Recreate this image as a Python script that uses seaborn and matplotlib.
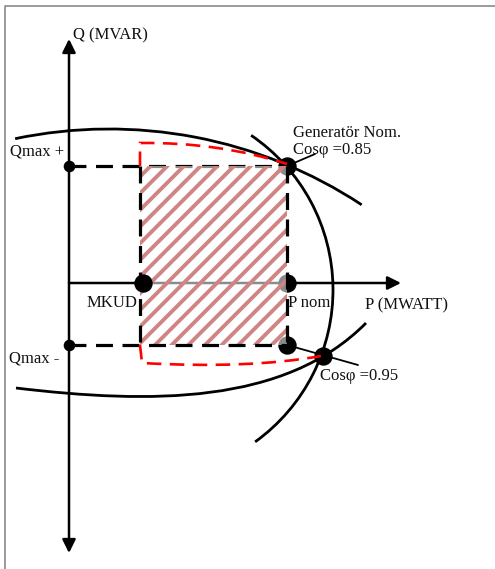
import numpy as np
import pandas as pd
import matplotlib
matplotlib.use("Agg")
import matplotlib.pyplot as plt
import seaborn as sns
from matplotlib.patches import Rectangle, Arc, PathPatch
from matplotlib.path import Path
from matplotlib.lines import Line2D

# ---- diagram data (P to the right, Q upward) ----
P_MKUD = 74
P_NOM = 218
Q_MAX_POS = 117
Q_MAX_NEG = -62
P_COS095, Q_COS095 = 254, -73

Q_AXIS = [-270, 244]
P_AXIS = [0, 332]

upper_arc_center = [40, -305]
upper_arc_r = 459
upper_arc_deg = [56.6, 101.8]

stator_arc_center = [77, -7]
stator_arc_r = 187
stator_arc_deg = [-54.3, 55.8]

lower_curve_P = [-53, 81, 216, 297]
lower_curve_Q = [-105, -121, -122, -40]

red_upper_P = [71, 71, 150, 218]
red_upper_Q = [117, 140, 141, 119]
red_lower_P = [71, 73, 180, 252]
red_lower_Q = [-62, -80, -86, -73]

gen_leader_P = [218, 246]
gen_leader_Q = [117, 129]
cos095_line_P = [218, 289]
cos095_line_Q = [-62, -82]

labels = ["Q (MVAR)", "Qmax +", "Qmax -", "MKUD", "P nom", "P (MWATT)",
          "Generatör Nom.", "Cosφ =0.85", "Cosφ =0.95"]
label_P = [4, -59, -60, 18, 219, 296, 224, 224, 251]
label_Q = [244, 128, -79, -24, -24, -26, 146, 129, -97]

# ---- styling ----
sns.set_theme(style="white")
plt.rcParams["font.family"] = ["Liberation Serif", "DejaVu Serif"]
plt.rcParams["hatch.linewidth"] = 2.8

fig = plt.figure(figsize=(4.95, 5.69), dpi=100)
ax = fig.add_axes([0, 0, 1, 1])
ax.set_xlim(-69, 426)
ax.set_ylim(-286, 283)
ax.axis("off")

BLACK = "black"
AX_LW = 1.8
CURVE_LW = 2.0

# axes with arrows
ax.annotate("", xy=(0, Q_AXIS[1]), xytext=(0, Q_AXIS[0]),
            arrowprops=dict(arrowstyle="<|-|>", lw=AX_LW, color=BLACK,
                            mutation_scale=20, shrinkA=0, shrinkB=0), zorder=2)
ax.annotate("", xy=(P_AXIS[1], 0), xytext=(P_AXIS[0], 0),
            arrowprops=dict(arrowstyle="-|>", lw=AX_LW, color=BLACK,
                            mutation_scale=20, shrinkA=0, shrinkB=0), zorder=2)

# capability curves
ax.add_patch(Arc(tuple(upper_arc_center), 2 * upper_arc_r, 2 * upper_arc_r,
                 theta1=upper_arc_deg[0], theta2=upper_arc_deg[1],
                 lw=CURVE_LW, color=BLACK, zorder=2))
ax.add_patch(Arc(tuple(stator_arc_center), 2 * stator_arc_r, 2 * stator_arc_r,
                 theta1=stator_arc_deg[0], theta2=stator_arc_deg[1],
                 lw=CURVE_LW, color=BLACK, zorder=2))
lower_path = Path(list(zip(lower_curve_P, lower_curve_Q)),
                  [Path.MOVETO, Path.CURVE4, Path.CURVE4, Path.CURVE4])
ax.add_patch(PathPatch(lower_path, fill=False, lw=CURVE_LW, color=BLACK, zorder=2))

ax.plot(gen_leader_P, gen_leader_Q, color=BLACK, lw=1.3, zorder=2)
ax.plot(cos095_line_P, cos095_line_Q, color=BLACK, lw=1.3, zorder=2)

# black dashed guide lines
dash_black = (0, (5.3, 3.0))
ax.plot([0, P_NOM], [Q_MAX_POS, Q_MAX_POS], color=BLACK, lw=2.3, ls=dash_black, zorder=2)
ax.plot([0, P_NOM], [Q_MAX_NEG, Q_MAX_NEG], color=BLACK, lw=2.3, ls=dash_black, zorder=4)
ax.plot([71, 71], [Q_MAX_POS, Q_MAX_NEG], color=BLACK, lw=2.3, ls=dash_black, zorder=4)
ax.plot([P_NOM, P_NOM], [Q_MAX_POS, Q_MAX_NEG], color=BLACK, lw=2.3, ls=dash_black, zorder=4)

# points under the hatched area
under = pd.DataFrame({"P": [P_NOM, P_NOM, P_NOM, P_COS095],
                      "Q": [0, Q_MAX_NEG, Q_MAX_POS, Q_COS095]})
sns.scatterplot(data=under, x="P", y="Q", s=175, color=BLACK,
                edgecolor=BLACK, linewidth=0, ax=ax, zorder=2, legend=False)

# hatched operating area
ax.add_patch(Rectangle((71, Q_MAX_NEG), P_NOM - 71, Q_MAX_POS - Q_MAX_NEG,
                       facecolor=(1, 1, 1, 0.55), edgecolor="#d08585",
                       hatch="//", lw=0, zorder=3))

# red dashed limits
codes3 = [Path.MOVETO, Path.LINETO, Path.CURVE3, Path.CURVE3]
dash_red = (0, (5.5, 3.2))
for Ps, Qs in [(red_upper_P, red_upper_Q), (red_lower_P, red_lower_Q)]:
    ax.add_patch(PathPatch(Path(list(zip(Ps, Qs)), codes3), fill=False,
                           lw=1.9, color="#ff0000", ls=dash_red, zorder=5))

# points on top
top_pts = pd.DataFrame({"P": [P_MKUD], "Q": [0]})
sns.scatterplot(data=top_pts, x="P", y="Q", s=175, color=BLACK,
                edgecolor=BLACK, linewidth=0, ax=ax, zorder=6, legend=False)
q_pts = pd.DataFrame({"P": [0, 0], "Q": [Q_MAX_POS, Q_MAX_NEG]})
sns.scatterplot(data=q_pts, x="P", y="Q", s=70, color=BLACK,
                edgecolor=BLACK, linewidth=0, ax=ax, zorder=6, legend=False)

# labels
for t, px, qy in zip(labels, label_P, label_Q):
    ax.text(px, qy, t, fontsize=12, color="#111111", ha="left", va="baseline", zorder=7)

ax.set_xlabel("")
ax.set_ylabel("")

# page frame
fig.add_artist(Line2D([5 / 495, 5 / 495, 1], [0, 1 - 6 / 569, 1 - 6 / 569],
                      transform=fig.transFigure, color="#8a8a8a", lw=1.2))

fig.savefig("out.png", dpi=100)
